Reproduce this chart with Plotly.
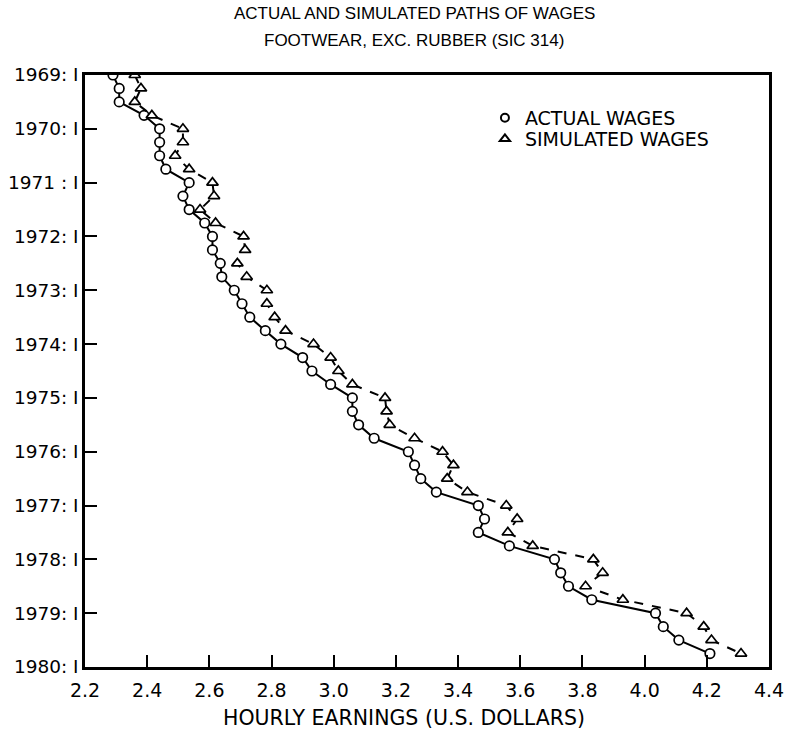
import plotly.graph_objects as go

# Quarterly index: 0 = 1969:I ... 43 = 1979:IV
quarters = list(range(44))

actual_wages = [
    2.29, 2.31, 2.31, 2.39, 2.44, 2.44, 2.44, 2.46,
    2.535, 2.515, 2.535, 2.585, 2.61, 2.61, 2.635, 2.64,
    2.68, 2.705, 2.73, 2.78, 2.83, 2.90, 2.93, 2.99,
    3.06, 3.06, 3.08, 3.13, 3.24, 3.26, 3.28, 3.33,
    3.465, 3.485, 3.465, 3.565, 3.71, 3.73, 3.755, 3.83,
    4.035, 4.06, 4.11, 4.21,
]

simulated_wages = [
    2.36, 2.38, 2.36, 2.415, 2.515, 2.515, 2.49, 2.535,
    2.61, 2.615, 2.57, 2.62, 2.71, 2.715, 2.69, 2.72,
    2.785, 2.785, 2.81, 2.845, 2.935, 2.99, 3.015, 3.06,
    3.165, 3.17, 3.18, 3.26, 3.35, 3.385, 3.365, 3.43,
    3.555, 3.59, 3.56, 3.64, 3.835, 3.865, 3.81, 3.93,
    4.135, 4.19, 4.215, 4.31,
]

year_ticks = [0, 4, 8, 12, 16, 20, 24, 28, 32, 36, 40, 44]
year_labels = ["1969: I", "1970: I", "1971 : I", "1972: I", "1973: I", "1974: I",
               "1975: I", "1976: I", "1977: I", "1978: I", "1979: I", "1980: I"]

x_ticks = [2.2, 2.4, 2.6, 2.8, 3.0, 3.2, 3.4, 3.6, 3.8, 4.0, 4.2, 4.4]
x_labels = ["2.2", "2.4", "2.6", "2.8", "3.0", "3.2", "3.4", "3.6", "3.8", "4.0", "4.2", "4.4"]

title_lines = ["ACTUAL AND SIMULATED PATHS OF WAGES", "FOOTWEAR, EXC. RUBBER (SIC 314)"]
x_title = "HOURLY EARNINGS (U.S. DOLLARS)"

FONT = "Liberation Sans, Arial, sans-serif"
WIDE = "DejaVu Sans, sans-serif"

fig = go.Figure()

fig.add_trace(go.Scatter(
    x=actual_wages, y=quarters, mode="lines+markers",
    line=dict(color="black", width=2),
    marker=dict(symbol="circle", size=9.5, color="white",
                line=dict(color="black", width=1.7)),
    showlegend=False,
))
fig.add_trace(go.Scatter(
    x=simulated_wages, y=quarters, mode="lines+markers",
    line=dict(color="black", width=2, dash="dash"),
    marker=dict(symbol="triangle-up", size=10, color="white",
                line=dict(color="black", width=1.7)),
    showlegend=False,
))
# legend entries (marker only)
fig.add_trace(go.Scatter(
    x=[None], y=[None], mode="markers", name="ACTUAL WAGES", legend="legend",
    marker=dict(symbol="circle", size=8, color="white",
                line=dict(color="black", width=2)),
))
fig.add_trace(go.Scatter(
    x=[None], y=[None], mode="markers", name="SIMULATED WAGES", legend="legend2",
    marker=dict(symbol="triangle-up", size=9, color="white",
                line=dict(color="black", width=2)),
))

legend_common = dict(
    xanchor="left", yanchor="top",
    font=dict(size=19, family=WIDE, color="black"),
    bgcolor="rgba(0,0,0,0)",
)

fig.update_layout(
    width=801, height=729,
    margin=dict(l=85, r=32, t=75, b=62),
    paper_bgcolor="white", plot_bgcolor="white",
    font=dict(family=FONT, color="black"),
    annotations=[
        dict(text=title_lines[0], xref="paper", yref="paper", x=0.481, y=1.1047,
             xanchor="center", yanchor="middle", showarrow=False,
             font=dict(size=17, family=FONT, color="black")),
        dict(text=title_lines[1], xref="paper", yref="paper", x=0.481, y=1.0591,
             xanchor="center", yanchor="middle", showarrow=False,
             font=dict(size=17, family=FONT, color="black")),
        dict(text=x_title, xref="paper", yref="paper", x=0.4664, y=-0.0861,
             xanchor="center", yanchor="middle", showarrow=False,
             font=dict(size=20.5, family=WIDE, color="black")),
    ],
    legend=dict(x=0.5847, y=0.9595, **legend_common),
    legend2=dict(x=0.5847, y=0.9240, **legend_common),
    xaxis=dict(
        range=[2.2, 4.4], tickvals=x_ticks, ticktext=x_labels,
        ticks="inside", ticklen=12, tickwidth=2, tickcolor="black",
        showline=True, linewidth=2.5, linecolor="black", mirror=True,
        showgrid=False, zeroline=False, automargin=False,
        tickfont=dict(size=19, family=WIDE, color="black"),
        ticklabelstandoff=4,
    ),
    yaxis=dict(
        range=[44, 0], tickvals=year_ticks, ticktext=year_labels,
        ticks="inside", ticklen=12, tickwidth=2, tickcolor="black",
        showline=True, linewidth=2.5, linecolor="black", mirror=True,
        showgrid=False, zeroline=False, automargin=False,
        tickfont=dict(size=18.5, family=WIDE, color="black"),
        ticklabelstandoff=0,
    ),
)

fig.write_html("out.html")
